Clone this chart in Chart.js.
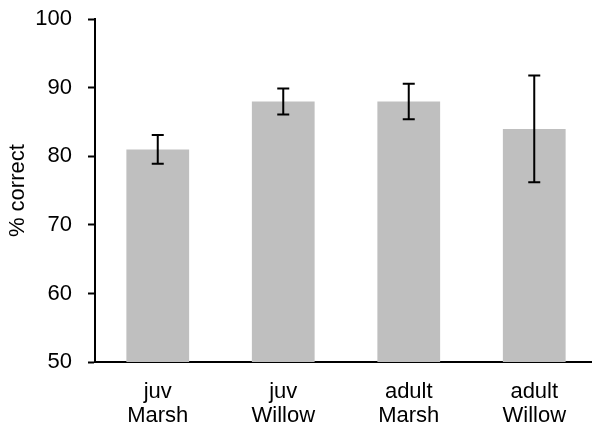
<!DOCTYPE html>
<html>
<head>
<meta charset="utf-8">
<script src="https://cdn.jsdelivr.net/npm/chart.js@4"></script>
<style>
html,body{margin:0;padding:0;background:#fff;overflow:hidden;}
#wrap{position:absolute;left:0;top:-10px;width:600px;height:445px;}
</style>
</head>
<body>
<div id="wrap"><canvas id="c"></canvas></div>
<script>
const categories = [["juv","Marsh"],["juv","Willow"],["adult","Marsh"],["adult","Willow"]];
const values = [81, 88, 88, 84];
const errors = [2.1, 1.9, 2.6, 7.8];
const yTicks = [50, 60, 70, 80, 90, 100];

const FONT = "'Liberation Sans', Arial, sans-serif";

const errorBars = {
  id: 'errorBars',
  afterDatasetsDraw(chart) {
    const ctx = chart.ctx;
    const meta = chart.getDatasetMeta(0);
    const y = chart.scales.y;
    ctx.save();
    ctx.strokeStyle = '#000';
    ctx.lineWidth = 2;
    meta.data.forEach((bar, i) => {
      const x = bar.x;
      const top = y.getPixelForValue(values[i] + errors[i]);
      const bot = y.getPixelForValue(values[i] - errors[i]);
      ctx.beginPath();
      ctx.moveTo(x, top); ctx.lineTo(x, bot);
      ctx.moveTo(x - 6, top); ctx.lineTo(x + 6, top);
      ctx.moveTo(x - 6, bot); ctx.lineTo(x + 6, bot);
      ctx.stroke();
    });
    ctx.restore();
  }
};

new Chart(document.getElementById('c'), {
  type: 'bar',
  data: {
    labels: categories,
    datasets: [{
      data: values,
      backgroundColor: '#bfbfbf',
      borderWidth: 0,
      categoryPercentage: 1,
      barPercentage: 0.5
    }]
  },
  options: {
    responsive: true,
    maintainAspectRatio: false,
    animation: false,
    devicePixelRatio: 1,
    layout: { padding: { top: 29, right: 3, bottom: 0, left: 0 } },
    plugins: { legend: { display: false }, tooltip: { enabled: false } },
    scales: {
      x: {
        afterFit(scale) { scale.height = 73; },
        grid: { display: false, drawTicks: false },
        border: { color: '#000', width: 2 },
        ticks: { color: '#000', font: { family: FONT, size: 22, lineHeight: 1.08 }, padding: 18, maxRotation: 0 }
      },
      y: {
        min: 50, max: 100,
        afterFit(scale) { scale.width = 95; },
        afterBuildTicks(scale) { scale.ticks = yTicks.map(v => ({ value: v })); },
        grid: { drawOnChartArea: false, drawTicks: true, tickLength: 7, tickColor: '#000', tickWidth: 2 },
        border: { color: '#000', width: 2 },
        ticks: { color: '#000', font: { family: FONT, size: 22 }, padding: 16 },
        title: { display: true, text: '% correct', color: '#000', font: { family: FONT, size: 22 }, padding: { top: 5, bottom: 0 } }
      }
    }
  },
  plugins: [errorBars]
});
</script>
</body>
</html>
